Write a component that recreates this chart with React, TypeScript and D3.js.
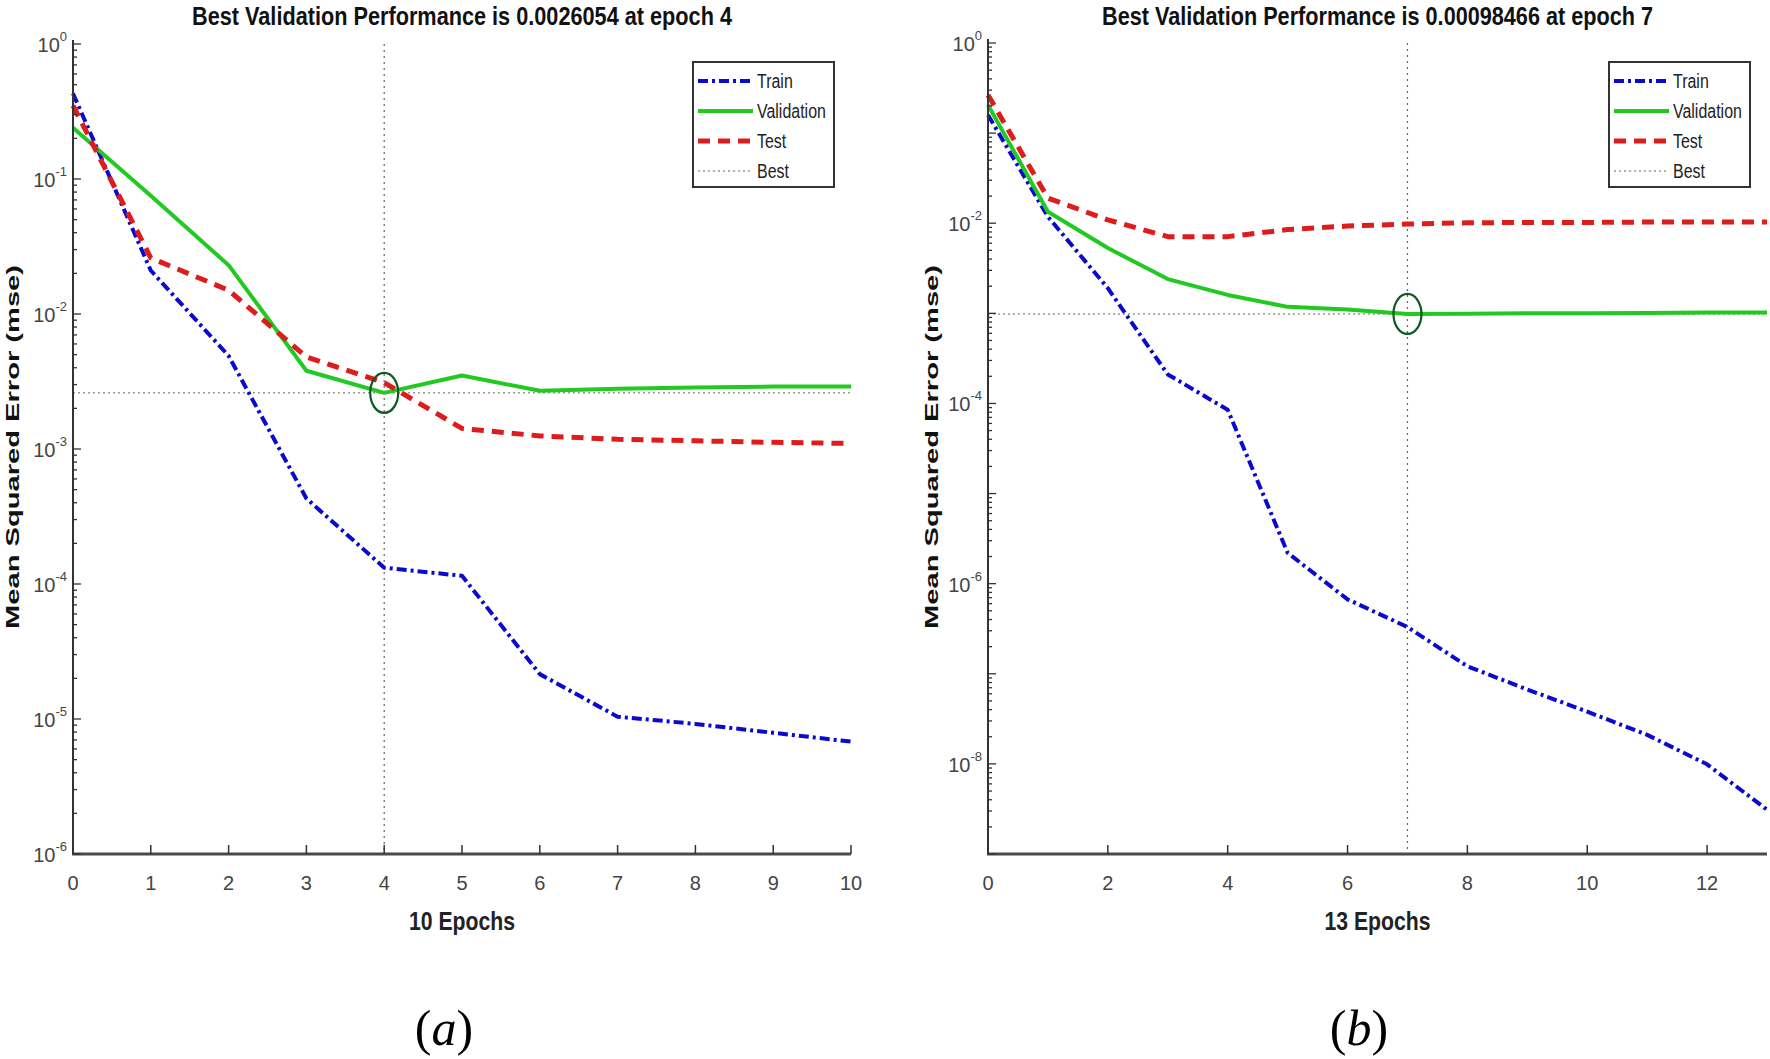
import React from 'react';
import * as d3 from 'd3';

// panel (a): 10 epochs
const EPOCHS_A = [0, 1, 2, 3, 4, 5, 6, 7, 8, 9, 10];
const TRAIN_A = [0.43, 0.021, 0.0049, 4.3e-4, 1.32e-4, 1.15e-4, 2.15e-5, 1.04e-5, 9.2e-6, 7.9e-6, 6.8e-6];
const VAL_A = [0.24, 0.075, 0.023, 0.0038, 0.0026054, 0.0035, 0.0027, 0.0028, 0.00285, 0.0029, 0.0029];
const TEST_A = [0.35, 0.026, 0.015, 0.0048, 0.0031, 0.00142, 0.00125, 0.00118, 0.00115, 0.00112, 0.0011];
const X_TICKS_A = [0, 1, 2, 3, 4, 5, 6, 7, 8, 9, 10];
const Y_EXP_A = [0, -1, -2, -3, -4, -5, -6];

// panel (b): 13 epochs
const EPOCHS_B = [0, 1, 2, 3, 4, 5, 6, 7, 8, 9, 10, 11, 12, 13];
const TRAIN_B = [0.159, 0.0118, 0.0019, 2.1e-4, 8.5e-5, 2.2e-6, 6.7e-7, 3.3e-7, 1.21e-7, 6.7e-8, 3.8e-8, 2.1e-8, 9.9e-9, 3.1e-9];
const VAL_B = [0.205, 0.0134, 0.0053, 0.0024, 0.0016, 0.00118, 0.0011, 0.00098466, 0.00099, 0.001, 0.001, 0.00101, 0.00102, 0.00102];
const TEST_B = [0.265, 0.019, 0.0109, 0.0071, 0.0071, 0.0085, 0.0093, 0.0098, 0.0101, 0.0102, 0.0102, 0.0103, 0.0103, 0.0103];
const X_TICKS_B = [0, 2, 4, 6, 8, 10, 12];
const Y_EXP_B = [0, -2, -4, -6, -8];

const LEGEND_LABELS = ['Train', 'Validation', 'Test', 'Best'];

const SANS = '"Liberation Sans", Arial, Helvetica, sans-serif';
const BLUE = '#0a0acc';
const GREEN = '#22c922';
const RED = '#dd1c1c';
const STYLES = [
  { color: BLUE, width: 4, dash: '10,4,3,4' },
  { color: GREEN, width: 4, dash: null },
  { color: RED, width: 5, dash: '12,8' },
];

interface PanelProps {
  x0: number; x1: number; yTop: number; yBot: number;
  epochs: number[]; train: number[]; val: number[]; test: number[];
  xMax: number; yMin: number;
  xTicks: number[]; yExps: number[];
  bestEpoch: number; bestValue: number;
  title: string; titleWidth: number;
  xTitle: string; legendX: number; yTitleX: number;
  panelLabel: string; panelLabelX: number;
}

const Panel: React.FC<PanelProps> = (p) => {
  const x = d3.scaleLinear().domain([0, p.xMax]).range([p.x0, p.x1]);
  const y = d3.scaleLog().domain([p.yMin, 1]).range([p.yBot, p.yTop]);
  const line = d3.line<number>().x((_, i) => x(p.epochs[i])).y(d => y(d));
  const cx = (p.x0 + p.x1) / 2;

  const yTicks = y.ticks();
  const isMajor = (v: number) => Math.abs(Math.log10(v) - Math.round(Math.log10(v))) < 1e-6;

  const series = [p.train, p.val, p.test];

  return (
    <g>
      {/* title */}
      <text x={cx} y={25} textAnchor="middle" fontFamily={SANS} fontWeight="bold" fontSize={25}
        textLength={p.titleWidth} lengthAdjust="spacingAndGlyphs" fill="#111">{p.title}</text>

      {/* best markers */}
      <line x1={p.x0} x2={p.x1} y1={y(p.bestValue)} y2={y(p.bestValue)} stroke="#9a9a88" strokeWidth={1.5} strokeDasharray="2,3" />
      <line x1={x(p.bestEpoch)} x2={x(p.bestEpoch)} y1={p.yTop} y2={p.yBot} stroke="#666" strokeWidth={1.2} strokeDasharray="2,4" />

      {/* series */}
      {series.map((s, i) => (
        <path key={i} d={line(s) || ''} fill="none" stroke={STYLES[i].color} strokeWidth={STYLES[i].width}
          strokeDasharray={STYLES[i].dash || undefined} strokeLinejoin="round" />
      ))}
      <ellipse cx={x(p.bestEpoch)} cy={y(p.bestValue)} rx={14} ry={20} fill="none" stroke="#0b5a1e" strokeWidth={2.2} />

      {/* axes */}
      <line x1={p.x0} x2={p.x0} y1={p.yTop - 4} y2={p.yBot} stroke="#333" strokeWidth={2} />
      <line x1={p.x0 - 1} x2={p.x1} y1={p.yBot} y2={p.yBot} stroke="#4a4a4a" strokeWidth={3} />
      {yTicks.map((v, i) => (
        <line key={i} x1={p.x0} x2={p.x0 + (isMajor(v) ? 8 : 4)} y1={y(v)} y2={y(v)} stroke="#333" strokeWidth={1.3} />
      ))}
      {p.xTicks.map(t => (
        <g key={t}>
          <line x1={x(t)} x2={x(t)} y1={p.yBot} y2={p.yBot - 9} stroke="#333" strokeWidth={1.5} />
          <text x={x(t)} y={890} textAnchor="middle" fontFamily={SANS} fontSize={20} fill="#444">{t}</text>
        </g>
      ))}
      {p.yExps.map(e => (
        <text key={e} x={p.x0 - 6} y={y(Math.pow(10, e)) + 8} textAnchor="end" fontFamily={SANS} fontSize={20} fill="#444">
          10<tspan dy={-11} fontSize={13}>{e}</tspan>
        </text>
      ))}

      {/* axis titles */}
      <text x={cx} y={930} textAnchor="middle" fontFamily={SANS} fontWeight="bold" fontSize={26}
        textLength={106} lengthAdjust="spacingAndGlyphs" fill="#222">{p.xTitle}</text>
      <text transform={`translate(${p.yTitleX},447) rotate(-90)`} textAnchor="middle" fontFamily={SANS}
        fontWeight="bold" fontSize={19} textLength={364} lengthAdjust="spacingAndGlyphs" fill="#111">
        Mean Squared Error  (mse)
      </text>

      {/* legend */}
      <rect x={p.legendX} y={62} width={141} height={125} fill="#fff" stroke="#333" strokeWidth={2} />
      {LEGEND_LABELS.map((lab, i) => {
        const ly = 81 + i * 30;
        return (
          <g key={lab}>
            {i < 3 ? (
              <line x1={p.legendX + 5} x2={p.legendX + 60} y1={ly} y2={ly} stroke={STYLES[i].color}
                strokeWidth={STYLES[i].width} strokeDasharray={STYLES[i].dash || undefined} />
            ) : (
              <line x1={p.legendX + 5} x2={p.legendX + 60} y1={ly} y2={ly} stroke="#9a9a88" strokeWidth={1.5} strokeDasharray="2,3" />
            )}
            <text transform={`translate(${p.legendX + 64},${ly + 7}) scale(0.76,1)`} fontFamily={SANS}
              fontSize={21} fill="#222">{lab}</text>
          </g>
        );
      })}

      {/* panel label */}
      <text x={p.panelLabelX} y={1045} textAnchor="middle" fontFamily='"Liberation Serif", "DejaVu Serif", serif'
        fontSize={50} fill="#000">(<tspan fontStyle="italic">{p.panelLabel}</tspan>)</text>
    </g>
  );
};

export default function App() {
  return (
    <svg width={1770} height={1059} style={{ position: 'absolute', left: 0, top: 0, background: '#fff' }}>
      <rect width={1770} height={1059} fill="#fff" />
      <Panel x0={73} x1={851} yTop={44} yBot={854} epochs={EPOCHS_A} train={TRAIN_A} val={VAL_A} test={TEST_A}
        xMax={10} yMin={1e-6} xTicks={X_TICKS_A} yExps={Y_EXP_A} bestEpoch={4} bestValue={0.0026054}
        title="Best Validation Performance is 0.0026054 at epoch 4" titleWidth={540}
        xTitle="10 Epochs" legendX={693} yTitleX={19} panelLabel="a" panelLabelX={444} />
      <Panel x0={988} x1={1767} yTop={43} yBot={854} epochs={EPOCHS_B} train={TRAIN_B} val={VAL_B} test={TEST_B}
        xMax={13} yMin={1e-9} xTicks={X_TICKS_B} yExps={Y_EXP_B} bestEpoch={7} bestValue={0.00098466}
        title="Best Validation Performance is 0.00098466 at epoch 7" titleWidth={551}
        xTitle="13 Epochs" legendX={1609} yTitleX={938} panelLabel="b" panelLabelX={1359} />
    </svg>
  );
}
